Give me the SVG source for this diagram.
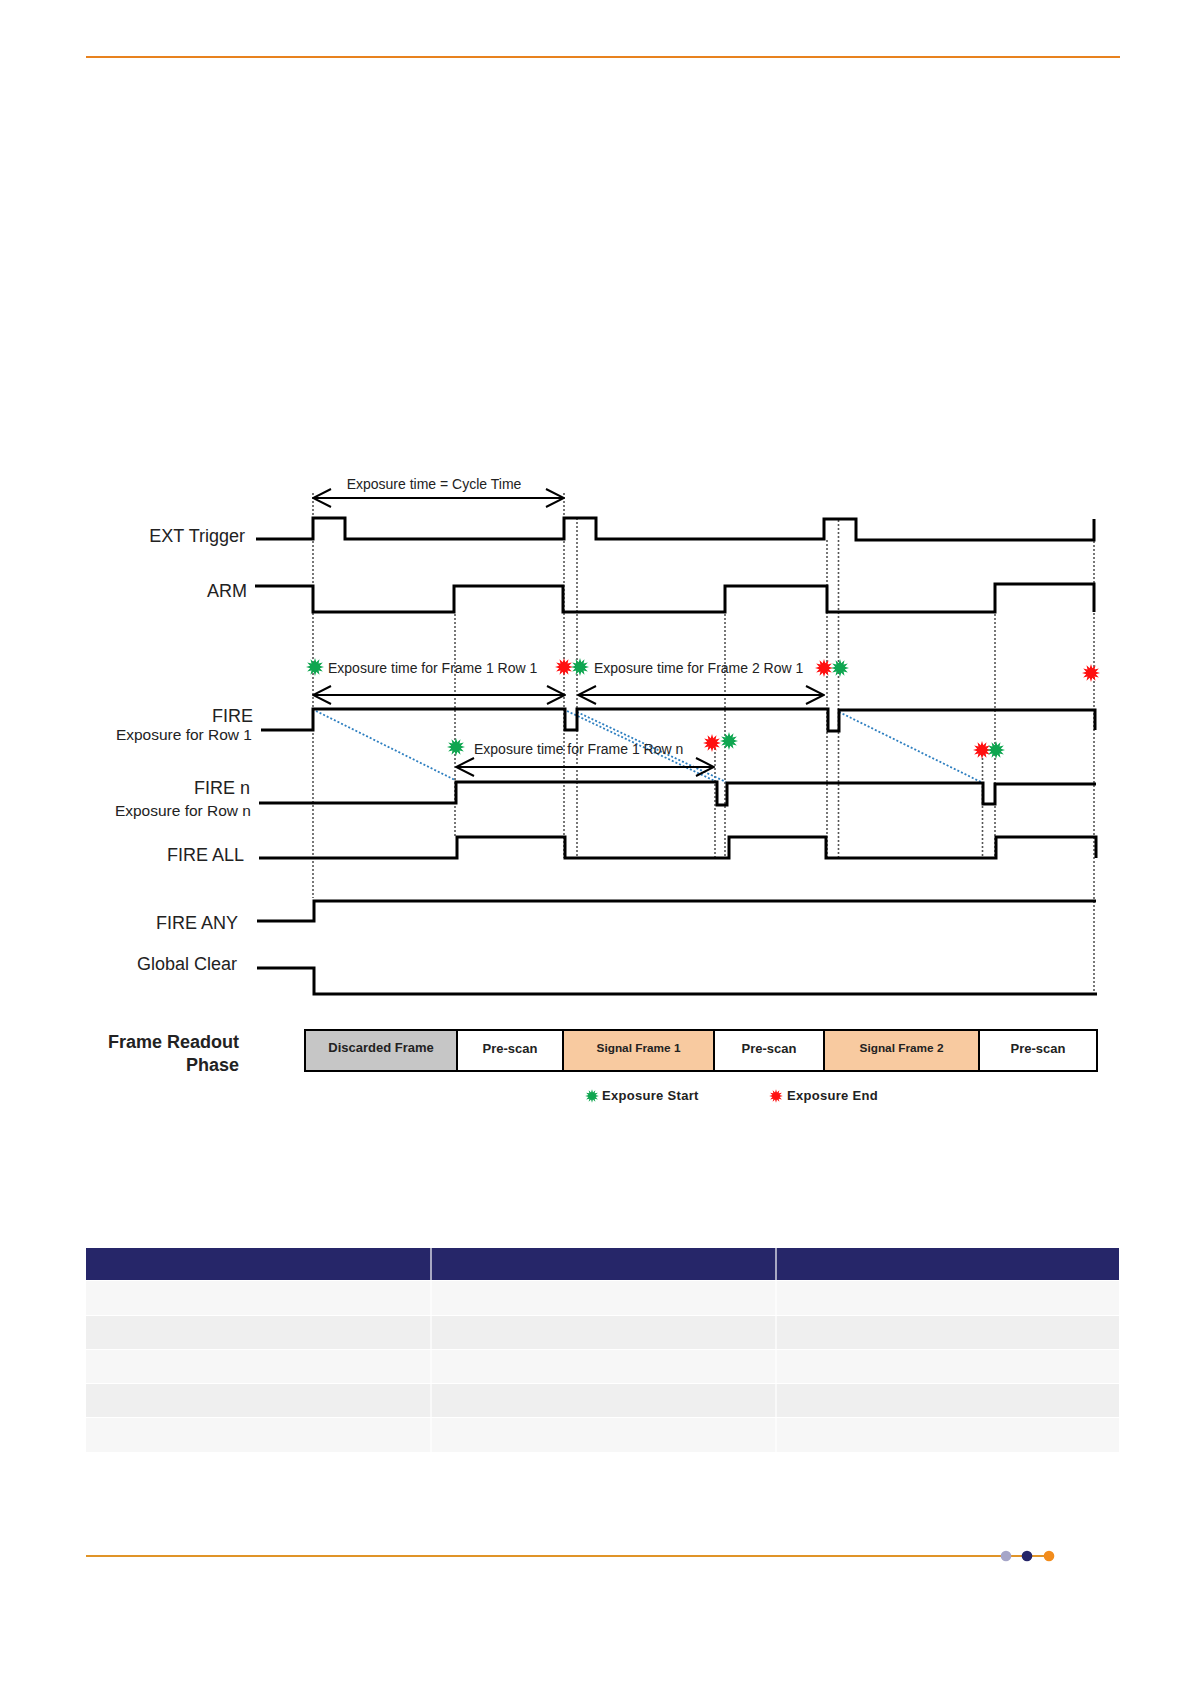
<svg xmlns="http://www.w3.org/2000/svg" width="1191" height="1684" viewBox="0 0 1191 1684">
<style>
.sig{fill:none;stroke:#000;stroke-width:3;stroke-linejoin:miter}
.dot{fill:none;stroke:#555;stroke-width:1.6;stroke-dasharray:2 2}
.blue{fill:none;stroke:#2e7fc0;stroke-width:1.8;stroke-dasharray:2 2}
.arr{fill:none;stroke:#000;stroke-width:2;marker-start:url(#ah);marker-end:url(#ah)}
.lbl{font-family:"Liberation Sans",Arial,sans-serif;font-size:18px;fill:#222;text-anchor:end}
.sub{font-family:"Liberation Sans",Arial,sans-serif;font-size:15.5px;fill:#222;text-anchor:end}
.note{font-family:"Liberation Sans",Arial,sans-serif;font-size:14px;fill:#222}
.box{stroke:#000;stroke-width:2}
.bt{font-family:"Liberation Sans",Arial,sans-serif;font-weight:bold;fill:#222;text-anchor:middle}
.leg{font-family:"Liberation Sans",Arial,sans-serif;font-weight:bold;font-size:13px;fill:#222;letter-spacing:0.3px}
.g{fill:#0fa650}
.r{fill:#ff1010}
</style>
<defs>
<marker id="ah" viewBox="0 0 20 20" refX="19" refY="10" markerWidth="20" markerHeight="20" markerUnits="userSpaceOnUse" orient="auto-start-reverse">
<path d="M1,1 L19,10 L1,19" fill="none" stroke="#000" stroke-width="2"/>
</marker>
<path id="star" d="M9,0 L4.83,1.29 L7.79,4.5 L3.54,3.54 L4.5,7.79 L1.29,4.83 L0,9 L-1.29,4.83 L-4.5,7.79 L-3.54,3.54 L-7.79,4.5 L-4.83,1.29 L-9,0 L-4.83,-1.29 L-7.79,-4.5 L-3.54,-3.54 L-4.5,-7.79 L-1.29,-4.83 L0,-9 L1.29,-4.83 L4.5,-7.79 L3.54,-3.54 L7.79,-4.5 L4.83,-1.29 Z"/>
</defs>
<rect width="1191" height="1684" fill="#fff"/>
<!-- page decoration -->
<line x1="86" y1="57" x2="1120" y2="57" stroke="#e8821e" stroke-width="2"/>
<line x1="86" y1="1556" x2="1049" y2="1556" stroke="#e09428" stroke-width="2"/>
<circle cx="1006" cy="1556" r="5.3" fill="#a6a6c8"/>
<circle cx="1027" cy="1556" r="5.3" fill="#262669"/>
<circle cx="1049" cy="1556" r="5.3" fill="#f28c1c"/>

<!-- dotted guides -->
<g id="guides">
<line class="dot" x1="313" y1="493" x2="313" y2="898"/>
<line class="dot" x1="564" y1="493" x2="564" y2="858"/>
<line class="dot" x1="577" y1="518" x2="577" y2="858"/>
<line class="dot" x1="455" y1="614" x2="455" y2="837"/>
<line class="dot" x1="715" y1="748" x2="715" y2="858"/>
<line class="dot" x1="725" y1="614" x2="725" y2="858"/>
<line class="dot" x1="827" y1="540" x2="827" y2="858"/>
<line class="dot" x1="838.5" y1="520" x2="838.5" y2="858"/>
<line class="dot" x1="982.5" y1="754" x2="982.5" y2="858"/>
<line class="dot" x1="995" y1="614" x2="995" y2="858"/>
<line class="dot" x1="1094" y1="541" x2="1094" y2="992"/>
</g>

<g id="diagonals">
<line class="blue" x1="316" y1="711" x2="455" y2="780"/>
<line class="blue" x1="567" y1="711" x2="717" y2="782"/>
<line class="blue" x1="577" y1="712" x2="726" y2="782"/>
<line class="blue" x1="839" y1="712" x2="983" y2="783"/>
</g>

<g id="ext-trigger">
<text class="lbl" x="245" y="542">EXT Trigger</text>
<path class="sig" d="M256,539 H313 V518 H345 V539 H564 V518 H596 V539 H824 V519 H856 V540 H1094 V519"/>
</g>
<g id="arm">
<text class="lbl" x="247" y="597">ARM</text>
<path class="sig" d="M255,586 H313 V612 H454 V586 H563 V612 H725 V586 H827 V612 H995 V584 H1094 V612"/>
</g>
<g id="fire">
<text class="lbl" x="253" y="722">FIRE</text>
<text class="sub" x="252" y="740">Exposure for Row 1</text>
<path class="sig" d="M261,730 H313 V709 H565 V730 H577 V709 H828 V731 H839 V710 H1095 V730"/>
</g>
<g id="fire-n">
<text class="lbl" x="250" y="794">FIRE n</text>
<text class="sub" x="251" y="816">Exposure for Row n</text>
<path class="sig" d="M259,803 H456 V782 H717 V805 H727 V783 H983 V804 H995 V784 H1096"/>
</g>
<g id="fire-all">
<text class="lbl" x="244" y="861">FIRE ALL</text>
<path class="sig" d="M259,858 H457 V837 H565 V858 H729 V837 H826 V858 H996 V837 H1096 V858"/>
</g>
<g id="fire-any">
<text class="lbl" x="238" y="929">FIRE ANY</text>
<path class="sig" d="M257,921 H314 V901 H1096"/>
</g>
<g id="global-clear">
<text class="lbl" x="237" y="970">Global Clear</text>
<path class="sig" d="M257,968 H314 V994 H1097"/>
</g>

<g id="connectors">
<line class="arr" x1="313" y1="498" x2="564" y2="498"/>
<line class="arr" x1="313" y1="695" x2="565" y2="695"/>
<line class="arr" x1="578" y1="695" x2="824" y2="695"/>
<line class="arr" x1="456" y1="767" x2="714" y2="767"/>
</g>

<g id="annotations">
<text class="note" x="434" y="489" text-anchor="middle" font-size="13.5px">Exposure time = Cycle Time</text>
<text class="note" x="328" y="673">Exposure time for Frame 1 Row 1</text>
<text class="note" x="594" y="673">Exposure time for Frame 2 Row 1</text>
<text class="note" x="474" y="754">Exposure time for Frame 1 Row n</text>
</g>

<g id="stars">
<use href="#star" class="g" x="315" y="667"/>
<use href="#star" class="r" x="564" y="667"/>
<use href="#star" class="g" x="580" y="667"/>
<use href="#star" class="r" x="824" y="668"/>
<use href="#star" class="g" x="840" y="668"/>
<use href="#star" class="r" x="1091" y="673"/>
<use href="#star" class="g" x="456" y="747"/>
<use href="#star" class="r" x="712" y="743"/>
<use href="#star" class="g" x="729" y="741"/>
<use href="#star" class="r" x="982" y="750"/>
<use href="#star" class="g" x="996" y="750"/>
</g>

<g id="frame-readout">
<text class="lbl" x="239" y="1048" font-weight="bold" fill="#111">Frame Readout</text>
<text class="lbl" x="239" y="1071" font-weight="bold" fill="#111">Phase</text>
<rect class="box" x="305" y="1030" width="152" height="41" fill="#c6c6c6"/>
<rect class="box" x="457" y="1030" width="106" height="41" fill="#fff"/>
<rect class="box" x="563" y="1030" width="151" height="41" fill="#f8caa0"/>
<rect class="box" x="714" y="1030" width="110" height="41" fill="#fff"/>
<rect class="box" x="824" y="1030" width="155" height="41" fill="#f8caa0"/>
<rect class="box" x="979" y="1030" width="118" height="41" fill="#fff"/>
<text class="bt" x="381" y="1052" font-size="13px">Discarded Frame</text>
<text class="bt" x="510" y="1053" font-size="13px">Pre-scan</text>
<text class="bt" x="638.5" y="1052" font-size="11.8px">Signal Frame 1</text>
<text class="bt" x="769" y="1053" font-size="13px">Pre-scan</text>
<text class="bt" x="901.5" y="1052" font-size="11.8px">Signal Frame 2</text>
<text class="bt" x="1038" y="1053" font-size="13px">Pre-scan</text>
</g>

<g id="legend">
<use href="#star" class="g" transform="translate(592,1096) scale(0.75)"/>
<text class="leg" x="602" y="1100">Exposure Start</text>
<use href="#star" class="r" transform="translate(776,1096) scale(0.75)"/>
<text class="leg" x="787" y="1100">Exposure End</text>
</g>

<g id="table">
<rect x="86" y="1248" width="1033" height="32" fill="#262669"/>
<rect x="86" y="1281" width="1033" height="34" fill="#f7f7f7"/>
<rect x="86" y="1316" width="1033" height="33" fill="#efefef"/>
<rect x="86" y="1350" width="1033" height="33" fill="#f7f7f7"/>
<rect x="86" y="1384" width="1033" height="33" fill="#efefef"/>
<rect x="86" y="1418" width="1033" height="34" fill="#f7f7f7"/>
<line x1="431" y1="1248" x2="431" y2="1452" stroke="#fff" stroke-width="1.2"/>
<line x1="776" y1="1248" x2="776" y2="1452" stroke="#fff" stroke-width="1.2"/>
</g>
</svg>
